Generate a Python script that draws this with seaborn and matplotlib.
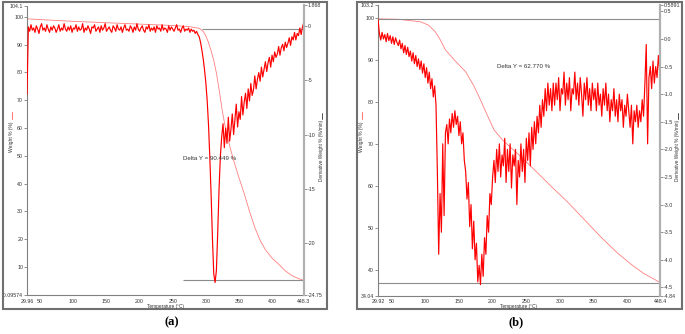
import numpy as np
import matplotlib
matplotlib.use("Agg")
import matplotlib.pyplot as plt
import seaborn as sns
from matplotlib.lines import Line2D
from matplotlib.patches import Rectangle

# -----------------------------
# Panel (a): TGA / DTG data
# -----------------------------
# derivative weight (%/min), sampled every 2 degC from 30 degC
dtg_a = [
    -6.3,
    -0.1, -0.5, 0.1, -0.4, -0.2, -0.6, 0.0, -0.3, -0.7, -0.1,
    0.2, -0.4, -0.2, -0.5, 0.1, -0.3, -0.6, -0.1, -0.4, 0.0,
    -0.2, -0.6, -0.3, 0.1, -0.5, -0.2, -0.4, 0.2, -0.3, -0.5,
    -0.1, -0.4, 0.0, -0.6, -0.2, -0.3, 0.1, -0.5, -0.1, -0.4,
    -0.3, 0.2, -0.6, -0.2, -0.4, 0.0, -0.3, -0.7, -0.1, -0.2,
    0.1, -0.5, -0.3, -0.1, -0.6, 0.0, -0.4, -0.2, 0.2, -0.5,
    -0.3, -0.1, -0.4, -0.6, 0.0, -0.2, -0.5, 0.1, -0.3, -0.4,
    -0.1, -0.6, -0.2, 0.1, -0.4, -0.3, -0.5, 0.0, -0.2, -0.6,
    -0.1, -0.4, 0.2, -0.3, -0.5, -0.2, 0.0, -0.4, -0.6, -0.1,
    -0.3, 0.1, -0.5, -0.2, -0.4, -0.1, -0.6, 0.0, -0.3, -0.2,
    -0.5, 0.1, -0.4, -0.2, -0.3, -0.6, 0.0, -0.4, -0.1, -0.3,
    -0.5, -0.2, 0.1, -0.4, -0.3, -0.6, -0.2, 0.0, -0.5, -0.3,
    -0.4, -0.2, -0.6, -0.3, -0.5, -0.4, -0.7, -0.5, -0.8, -1.0,
    -1.5, -2.2, -3.0, -4.0, -5.2, -6.8, -9.0, -12.0, -15.5, -19.5,
    -22.8, -23.6, -22.5, -19.0, -15.0, -12.0, -10.2,
    -9.0, -11.2, -9.4, -10.8, -8.4, -10.6, -9.5, -8.1, -10.0, -8.6,
    -7.2, -9.3, -7.9, -8.6, -6.5, -8.2, -7.0, -6.2, -7.6, -5.8,
    -6.9, -5.3, -6.4, -5.9, -4.6, -5.8, -4.9, -4.3, -5.1, -3.8,
    -4.7, -4.0, -3.3, -4.2, -3.4, -2.9, -3.8, -2.7, -3.3, -2.4,
    -2.9, -2.6, -1.9, -2.7, -2.0, -1.7, -2.3, -1.5, -2.0, -1.6,
    -1.1, -1.8, -1.0, -1.3, -0.6, -1.3, -0.7, -0.9, -0.2, -0.8,
    -0.1, 0.3,
]
temp_a = np.arange(30, 30 + 2 * len(dtg_a), 2)

wt_temp_a = [30, 60, 100, 150, 200, 250, 275, 290, 296, 300, 304, 308, 312,
             316, 320, 325, 330, 336, 342, 350, 358, 366, 374, 382, 390,
             400, 410, 420, 430, 440, 448.3]
wt_a = [99.3, 98.9, 98.4, 97.9, 97.4, 96.9, 96.5, 95.9, 94.8, 93.2, 90.8,
        87.8, 84.4, 79.8, 74.0, 66.0, 59.6, 53.6, 48.4, 42.2, 36.4, 30.0,
        24.2, 19.6, 16.2, 13.2, 11.0, 8.6, 6.9, 5.8, 5.15]

# -----------------------------
# Panel (b)
# -----------------------------
dtg_b = [
    0.35,
    0.10, -0.02, 0.12, 0.00, 0.08, -0.05, 0.10, -0.03, 0.06, -0.08, 0.04, -0.10, 0.02, -0.06, -0.12,
    -0.02, -0.18, -0.08, -0.25, -0.12, -0.28, -0.15, -0.32, -0.22, -0.40, -0.25, -0.45, -0.30, -0.50, -0.36,
    -0.55, -0.40, -0.62, -0.45, -0.70, -0.52, -0.80, -0.60, -0.90, -0.72, -1.05, -0.85, -1.20,
    -2.4, -3.9, -2.8, -3.5, -1.9, -3.2, -1.7,
    -1.55, -1.9, -1.45, -1.7, -1.35, -1.6, -1.3, -1.55, -1.4, -1.75, -1.5, -1.9, -1.7, -2.2,
    -2.4, -2.9, -2.6, -3.4, -3.0, -3.8, -3.3, -4.0, -3.7, -4.4, -4.1, -4.45, -3.9, -4.3, -3.6,
    -3.9, -3.2, -3.5, -2.8, -3.0, -2.5,
    -2.2, -2.6, -2.0, -2.4, -1.9, -2.5, -2.1, -2.3, -1.8, -2.6, -2.0, -2.4, -1.9, -2.7, -2.1,
    -2.3, -2.0, -3.0, -2.2, -2.5, -1.9, -2.4, -2.0, -2.6, -1.8, -2.2, -1.7, -2.3, -1.6, -2.0,
    -1.5, -1.9, -1.4, -1.7, -1.2, -1.6, -1.1, -1.4, -0.9, -1.3, -0.8, -1.2, -0.9, -1.3, -0.8,
    -1.2, -0.8, -1.1, -0.7, -1.3, -0.9, -1.0, -0.6, -1.2, -0.8, -1.1, -0.7, -1.3, -0.9, -1.0,
    -0.6, -1.1, -0.8, -1.2, -0.7, -1.0, -1.4, -0.8, -1.1, -0.7, -1.2, -0.9, -1.3, -0.8, -1.1,
    -0.9, -1.3, -0.8, -1.2, -1.0, -1.4, -0.9, -1.2, -0.8, -1.3, -1.0, -1.5, -1.1, -1.3, -0.9,
    -1.4, -1.1, -1.5, -1.0, -1.3, -1.1, -1.6, -1.2, -1.4, -1.0,
    -1.3, -1.6, -1.2, -1.9, -1.3, -1.5, -1.2, -1.6, -1.3, -1.5, -1.1, -1.4,
    -0.8, -0.1, -1.9, -0.7, -0.5, -0.9, -0.4, -0.8, -0.5, -0.7, -0.3, -0.6,
]
temp_b = np.arange(30, 30 + 2 * len(dtg_b), 2)

wt_temp_b = [30, 60, 93, 105, 115, 122, 130, 145, 160, 172, 182, 192, 202,
             215, 230, 242, 260, 287, 310, 335, 361, 385, 406, 425, 440, 448.4]
wt_b = [99.9, 99.8, 99.2, 98.4, 96.8, 95.0, 92.5, 89.8, 87.3, 84.0, 80.6,
        77.0, 73.5, 71.0, 68.8, 67.1, 64.3, 60.0, 56.5, 52.3, 47.9, 44.2,
        41.4, 39.2, 37.9, 37.13]

# -----------------------------
# Axis ticks / labels
# -----------------------------
xticks_a = [29.96, 50, 100, 150, 200, 250, 300, 350, 400, 448.3]
xlabels_a = ["29.96", "50", "100", "150", "200", "250", "300", "350", "400", "448.3"]
wticks_a = [-0.09574, 10, 20, 30, 40, 50, 60, 70, 80, 90, 100, 104.1]
wlabels_a = ["-0.09574", "10", "20", "30", "40", "50", "60", "70", "80", "90", "100", "104.1"]
dticks_a = [-24.75, -20, -15, -10, -5, 0, 1.868]
dlabels_a = ["-24.75", "-20", "-15", "-10", "-5", "0", "1.868"]

xticks_b = [29.92, 50, 100, 150, 200, 250, 300, 350, 400, 448.4]
xlabels_b = ["29.92", "50", "100", "150", "200", "250", "300", "350", "400", "448.4"]
wticks_b = [34.04, 40, 50, 60, 70, 80, 90, 100, 103.2]
wlabels_b = ["34.04", "40", "50", "60", "70", "80", "90", "100", "103.2"]
dticks_b = [-4.647, -4.5, -4.0, -3.5, -3.0, -2.5, -2.0, -1.5, -1.0, -0.5, 0.0, 0.5, 0.615]
dlabels_b = ["-4.84", "-4.5", "-4.0", "-3.5", "-3.0", "-2.5", "-2.0", "-1.5", "-1.0",
             "-0.5", "0.0", "0.5", "0.5891"]

WT_COLOR = "#ff7f7f"
DTG_COLOR = "#ff0000"
GRID_GRAY = "#8c8c8c"

W, H = 685, 334

sns.set_style("white")
plt.rcParams["font.family"] = ["Liberation Sans", "DejaVu Sans"]
plt.rcParams["axes.unicode_minus"] = False

fig = plt.figure(figsize=(W / 100, H / 100), dpi=100)


def box(x0, y0, x1, y1):
    return [x0 / W, 1 - y1 / H, (x1 - x0) / W, (y1 - y0) / H]


def fpt(x, y):
    return x / W, 1 - y / H


def draw_panel(p):
    # outer frame
    fx0, fy0, fx1, fy1 = p["frame"]
    fig.add_artist(Rectangle((fx0 / W, 1 - fy1 / H), (fx1 - fx0) / W, (fy1 - fy0) / H,
                             transform=fig.transFigure, fill=False,
                             edgecolor="#707070", linewidth=1.5))

    ax = fig.add_axes(box(*p["axes"]))
    ax2 = ax.twinx()

    sns.lineplot(x=p["wt_temp"], y=p["wt"], ax=ax, color=WT_COLOR,
                 linewidth=0.6, sort=False, estimator=None)
    sns.lineplot(x=p["temp"], y=p["dtg"], ax=ax2, color=DTG_COLOR,
                 linewidth=0.85, sort=False, estimator=None)

    for lvl, t0 in p["steps"]:
        ax.hlines(lvl, t0, p["xlim"][1], color=GRID_GRAY, linewidth=0.8)

    ax.set_xlim(*p["xlim"])
    ax.set_ylim(*p["wlim"])
    ax2.set_ylim(*p["dlim"])
    ax.set_xticks(p["xticks"], labels=p["xlabels"])
    ax.set_yticks(p["wticks"], labels=p["wlabels"])
    ax2.set_yticks(p["dticks"], labels=p["dlabels"])
    ax.set_xlabel("")
    ax.set_ylabel("")
    ax2.set_ylabel("")

    for s in ["top", "right"]:
        ax.spines[s].set_visible(False)
    for s in ["top", "left", "bottom"]:
        ax2.spines[s].set_visible(False)
    for s in ["left", "bottom"]:
        ax.spines[s].set_color("#808080")
        ax.spines[s].set_linewidth(0.8)
    ax2.spines["right"].set_color("#b0b0b0")
    ax2.spines["right"].set_linewidth(1.6)

    kw = dict(direction="out", length=2, width=0.6, colors="#808080",
              labelsize=3.8, labelcolor="#333333", pad=0.8)
    ax.tick_params(axis="both", **kw)
    ax2.tick_params(axis="y", **kw)

    # axis titles with small legend line samples
    lx, ly = p["ylab_left"]
    fig.text(*fpt(lx, ly), "Weight % (%)", rotation=90, ha="center", va="center",
             fontsize=3.6, color="#333333")
    fig.add_artist(Line2D([lx / W, lx / W], [1 - (ly - 25) / H, 1 - (ly - 18) / H],
                          transform=fig.transFigure, color=WT_COLOR, linewidth=0.8))
    rx, ry = p["ylab_right"]
    fig.text(*fpt(rx, ry), "Derivative Weight % (%/min)", rotation=90, ha="center",
             va="center", fontsize=3.4, color="#333333")
    fig.add_artist(Line2D([rx / W, rx / W], [1 - (ry - 37) / H, 1 - (ry - 31) / H],
                          transform=fig.transFigure, color="#333333", linewidth=0.6))
    cx = (p["axes"][0] + p["axes"][2]) / 2
    fig.text(*fpt(cx, 306.5), "Temperature (°C)", ha="center", va="center",
             fontsize=3.4, color="#333333")

    fig.text(*fpt(*p["delta_pos"]), p["delta_txt"], ha="left", va="center",
             fontsize=4.4, color="#333333")
    fig.text(*fpt(*p["tag_pos"]), p["tag"], ha="center", va="center",
             fontsize=9, fontweight="bold", family="Liberation Serif", color="black")


panel_a = dict(frame=(3, 2, 327, 309), axes=(27, 5.5, 304, 295),
               temp=temp_a, dtg=dtg_a, wt_temp=wt_temp_a, wt=wt_a,
               xlim=(29.96, 448.3), wlim=(-0.09574, 104.1), dlim=(-24.75, 1.868),
               xticks=xticks_a, xlabels=xlabels_a, wticks=wticks_a, wlabels=wlabels_a,
               dticks=dticks_a, dlabels=dlabels_a,
               steps=[(95.6, 295), (5.15, 266)],
               delta_txt="Delta Y = 90.449 %", delta_pos=(183, 158),
               ylab_left=(12, 137), ylab_right=(322, 150),
               tag="(a)", tag_pos=(172, 322))

panel_b = dict(frame=(357, 2, 682, 309), axes=(378, 5, 660, 295.5),
               temp=temp_b, dtg=dtg_b, wt_temp=wt_temp_b, wt=wt_b,
               xlim=(29.92, 448.4), wlim=(34.04, 103.2), dlim=(-4.647, 0.615),
               xticks=xticks_b, xlabels=xlabels_b, wticks=wticks_b, wlabels=wlabels_b,
               dticks=dticks_b, dlabels=dlabels_b,
               steps=[(99.9, 29.92), (37.13, 29.92)],
               delta_txt="Delta Y = 62.770 %", delta_pos=(497, 66),
               ylab_left=(362, 137), ylab_right=(678, 150),
               tag="(b)", tag_pos=(516, 322))

draw_panel(panel_a)
draw_panel(panel_b)

fig.savefig("out.png", dpi=100)
